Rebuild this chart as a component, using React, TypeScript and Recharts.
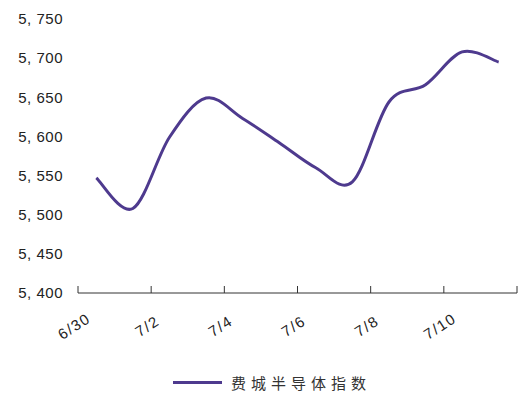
import React from 'react';
import { LineChart, Line, XAxis, YAxis } from 'recharts';

// daily closes, 6/30 - 7/11
const days = ['6/30', '7/1', '7/2', '7/3', '7/4', '7/5', '7/6', '7/7', '7/8', '7/9', '7/10', '7/11'];
const closes = [5547, 5508, 5599, 5649, 5623, 5592, 5560, 5542, 5644, 5666, 5708, 5695];

const xTicks = [0, 2, 4, 6, 8, 10, 12];
const xTickLabels = ['6/30', '7/2', '7/4', '7/6', '7/8', '7/10', ''];
const yTicks = [5400, 5450, 5500, 5550, 5600, 5650, 5700, 5750];

const seriesName = '费城半导体指数';
const lineColor = '#4E3A8E';

// each day sits in the middle of its slot on the date axis
const chartData = days.map((d, i) => ({ day: d, pos: i + 0.5, close: closes[i] }));

const fmtY = (v: number) => v.toLocaleString('en-US').replace(',', ', ');

// office-style smoothed line (catmull-rom through every point)
const smoothCurve = (context: any) => {
  let pts: number[][] = [];
  return {
    areaStart() {},
    areaEnd() {},
    lineStart() {
      pts = [];
    },
    point(x: number, y: number) {
      pts.push([+x, +y]);
    },
    lineEnd() {
      if (!pts.length) return;
      context.moveTo(pts[0][0], pts[0][1]);
      for (let i = 0; i < pts.length - 1; i++) {
        const p0 = pts[i - 1] || pts[i];
        const p1 = pts[i];
        const p2 = pts[i + 1];
        const p3 = pts[i + 2] || p2;
        context.bezierCurveTo(
          p1[0] + (p2[0] - p0[0]) / 6,
          p1[1] + (p2[1] - p0[1]) / 6,
          p2[0] - (p3[0] - p1[0]) / 6,
          p2[1] - (p3[1] - p1[1]) / 6,
          p2[0],
          p2[1],
        );
      }
    },
  };
};

const XTick = (props: any) => {
  const { x, y, payload } = props;
  const label = xTickLabels[xTicks.indexOf(payload.value)];
  const cx = x - 4;
  return (
    <text
      x={cx}
      y={y}
      textAnchor="middle"
      dominantBaseline="central"
      transform={`rotate(-33, ${cx}, ${y})`}
      fill="#222"
      fontSize={15}
      letterSpacing={1.5}
      fontFamily="'Liberation Sans', Arial, sans-serif"
    >
      {label}
    </text>
  );
};

const App: React.FC = () => {
  return (
    <div style={{ position: 'fixed', top: 0, left: 0, width: 525, height: 402, background: '#fff' }}>
      <LineChart width={525} height={402} data={chartData} margin={{ top: 19, right: 8, bottom: 69, left: 0 }}>
        <XAxis
          dataKey="pos"
          type="number"
          domain={[0, 12]}
          ticks={xTicks}
          interval={0}
          stroke="#333"
          tickSize={-7}
          tickMargin={40}
          height={40}
          tick={<XTick />}
        />
        <YAxis
          domain={[5400, 5750]}
          ticks={yTicks}
          axisLine={false}
          tickLine={false}
          tickSize={0}
          tickMargin={15}
          width={78}
          tickFormatter={fmtY}
          tick={{ fill: '#222', fontSize: 15, fontFamily: "'Liberation Sans', Arial, sans-serif", letterSpacing: 0.5 }}
        />
        <Line
          type={smoothCurve as any}
          dataKey="close"
          name={seriesName}
          stroke={lineColor}
          strokeWidth={3}
          dot={false}
          isAnimationActive={false}
        />
      </LineChart>
      <div
        style={{
          position: 'absolute',
          left: 173,
          top: 372,
          display: 'flex',
          alignItems: 'center',
          fontFamily: "'Noto Sans CJK SC', sans-serif",
          fontSize: 15,
          color: '#333',
        }}
      >
        <span style={{ display: 'inline-block', width: 49, height: 3, background: lineColor, marginRight: 9 }} />
        <span style={{ letterSpacing: 5 }}>{seriesName}</span>
      </div>
    </div>
  );
};

export default App;
